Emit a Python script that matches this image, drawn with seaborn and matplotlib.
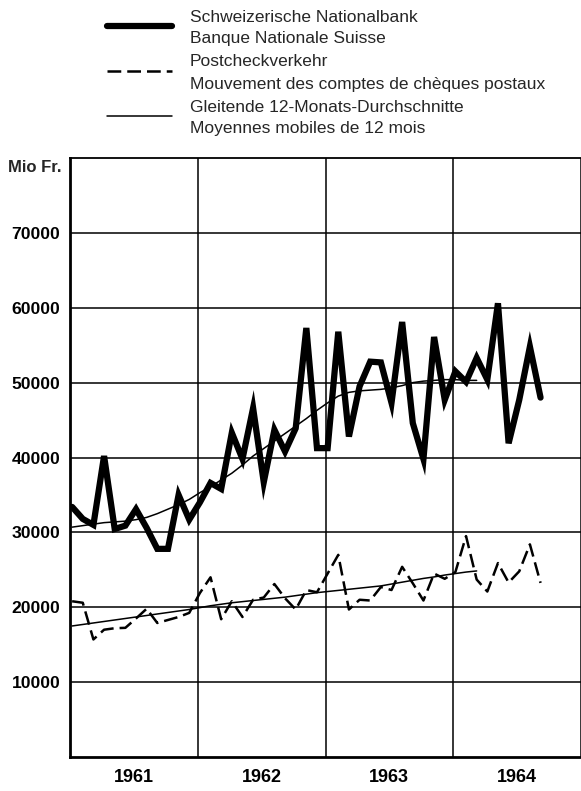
import numpy as np
import pandas as pd
import matplotlib
matplotlib.use('Agg')
import matplotlib.pyplot as plt
import seaborn as sns
from matplotlib.lines import Line2D

sns.set_style("white")
plt.rcParams['font.family'] = ['Liberation Sans', 'DejaVu Sans']

# monthly values, Jan 1961 .. Sep 1964 (Mio Fr.)
nationalbank = [33400, 31800, 31000, 40200, 30450, 30900, 33100, 30600, 27800, 27800, 35000, 31700,
                34000, 36600, 35800, 43300, 39800, 46600, 36700, 43700, 40800, 43900, 57300, 41250,
                41250, 56800, 42800, 49500, 52800, 52700, 47300, 58100, 44600, 39800, 56100, 47700,
                51500, 50100, 53300, 50400, 60600, 41900, 47700, 54800, 48000]
postcheck = [20800, 20600, 15700, 17000, 17200, 17250, 18500, 19800, 17900, 18300, 18700, 19250,
             21900, 24000, 18400, 20800, 18700, 21000, 21300, 23100, 21200, 19700, 22300, 22000,
             24500, 27000, 19700, 21000, 20900, 22700, 22300, 25400, 23200, 20900, 24500, 23800,
             24700, 29500, 23700, 22100, 25900, 23300, 24800, 28400, 23250]
# 12-month moving averages, Jan 1961 .. Mar 1964
nb_avg = [30700, 30900, 31100, 31300, 31400, 31500, 31700, 32000, 32500, 33100, 33700, 34400,
          35300, 36100, 37000, 37900, 39000, 40200, 41200, 42200, 43200, 44200, 45200, 46300,
          47300, 48200, 48700, 48900, 49000, 49100, 49300, 49600, 50000, 50200, 50300, 50400,
          50400, 50300, 50300]
pc_avg = [17500, 17700, 17900, 18100, 18300, 18500, 18700, 18900, 19100, 19300, 19500, 19700,
          19950, 20200, 20400, 20600, 20750, 20900, 21050, 21200, 21350, 21550, 21750, 21950,
          22100, 22250, 22400, 22550, 22700, 22850, 23100, 23350, 23600, 23850, 24050, 24300,
          24500, 24700, 24850]
years = [1961, 1962, 1963, 1964]
y_ticks = [10000, 20000, 30000, 40000, 50000, 60000, 70000]
legend_lines = [('Schweizerische Nationalbank', 'Banque Nationale Suisse'),
                ('Postcheckverkehr', 'Mouvement des comptes de chèques postaux'),
                ('Gleitende 12-Monats-Durchschnitte', 'Moyennes mobiles de 12 mois')]

# month positions as decimal years
t = 1961 + (np.arange(len(nationalbank)) + 0.2) / 12
df = pd.DataFrame({'t': t, 'nb': nationalbank, 'pc': postcheck})
df_avg = pd.DataFrame({'t': t[:len(nb_avg)], 'nb': nb_avg, 'pc': pc_avg})

fig = plt.figure(figsize=(5.81, 7.91), dpi=100)
ax = fig.add_axes([70 / 581, 1 - 757 / 791, 1 - 70 / 581, (757 - 158) / 791])

dash = (0, (5.5, 2.4))
thick = dict(color='black', lw=4.5, solid_joinstyle='miter')
dashed = dict(color='black', lw=1.8, linestyle=dash)
thin = dict(color='black', lw=1.1)
sns.lineplot(data=df, x='t', y='nb', ax=ax, **thick)
sns.lineplot(data=df, x='t', y='pc', ax=ax, **dashed)
sns.lineplot(data=df_avg, x='t', y='nb', ax=ax, **thin)
sns.lineplot(data=df_avg, x='t', y='pc', ax=ax, **thin)

ax.set_xlim(1961, 1965)
ax.set_ylim(0, 80000)
ax.set_xlabel('')
ax.set_ylabel('')

# year gridlines, quarter ticks, year labels in the middle
ax.set_xticks(years + [1965])
ax.set_xticklabels([])
quarters = [y + q for y in years for q in (0.25, 0.5, 0.75)]
ax.set_xticks(quarters, minor=True)
ax.set_xticklabels([str(y) if q == 0.5 else '' for y in years for q in (0.25, 0.5, 0.75)],
                   minor=True, fontweight='bold', fontsize=13)
ax.tick_params(axis='x', which='major', length=0)
ax.tick_params(axis='x', which='minor', direction='in', length=7, width=1.3, pad=9, colors='black')

ax.set_yticks(y_ticks)
ax.set_yticklabels([str(v) for v in y_ticks], fontweight='bold', fontsize=12.6)
ax.tick_params(axis='y', length=0, pad=7, colors='black')

ax.grid(True, which='major', color='black', lw=1.1)
ax.set_axisbelow(True)
for side in ['left', 'bottom']:
    ax.spines[side].set_linewidth(2.0)
    ax.spines[side].set_color('black')
ax.spines['top'].set_linewidth(1.3)
ax.spines['top'].set_color('black')
ax.spines['right'].set_visible(False)

fig.text(62 / 581, 1 - 168 / 791, 'Mio Fr.', ha='right', va='center', fontweight='bold', fontsize=12)

# legend block at the top, drawn by hand (two-line labels)
H = 791
for i, ((l1, l2), style) in enumerate(zip(legend_lines, [thick, dashed, thin])):
    y0 = 17 + i * 45
    fig.add_artist(Line2D([107 / 581, 172 / 581], [1 - (y0 + 9) / H] * 2,
                          transform=fig.transFigure, **{k: v for k, v in style.items() if k != 'solid_joinstyle'}))
    fig.text(190 / 581, 1 - y0 / H, l1, ha='left', va='center', fontsize=12.5)
    fig.text(190 / 581, 1 - (y0 + 22) / H, l2, ha='left', va='center', fontsize=12.5)

fig.savefig('out.png', dpi=100)
